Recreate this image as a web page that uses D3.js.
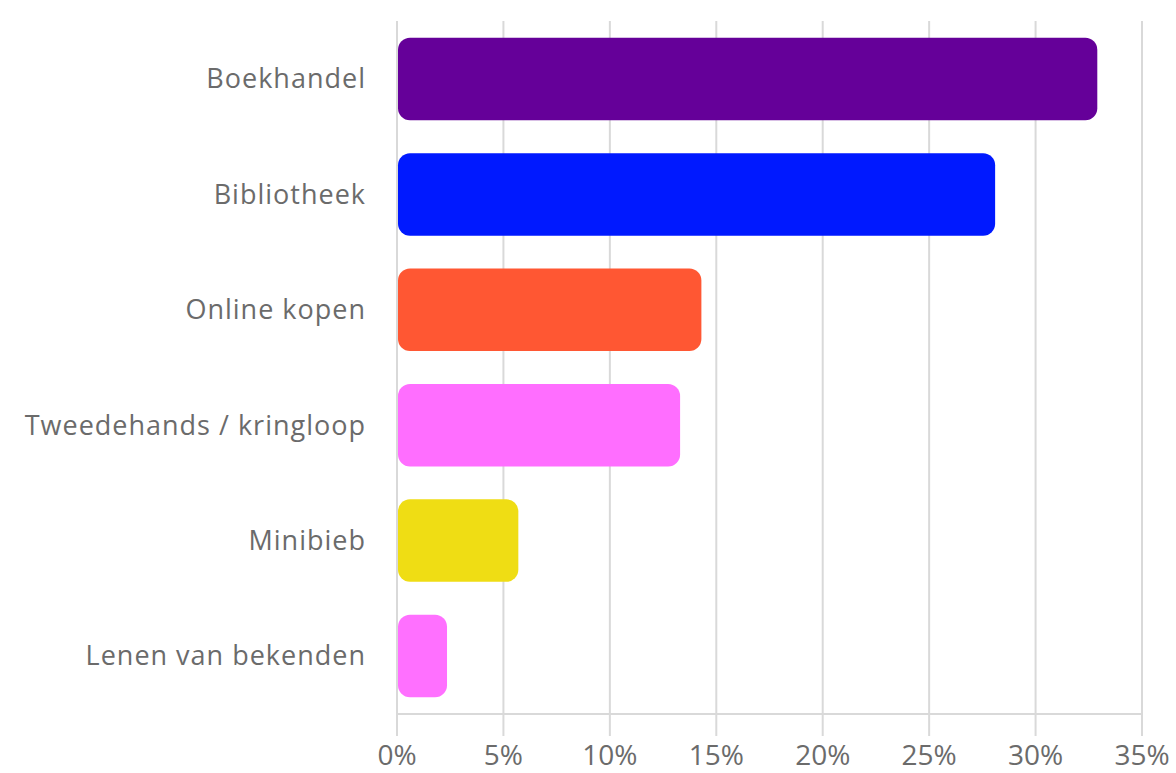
<!DOCTYPE html>
<html>
<head>
<meta charset="utf-8">
<script src="https://cdn.jsdelivr.net/npm/d3@7"></script>
<style>
  body { margin: 0; background: #fff; }
  svg text { font-family: "Open Sans", Roboto, sans-serif; fill: #6b6b6b; }
</style>
</head>
<body>
<div id="chart"></div>
<script>
const categories = ['Boekhandel', 'Bibliotheek', 'Online kopen', 'Tweedehands / kringloop', 'Minibieb', 'Lenen van bekenden'];
const values = [32.9, 28.1, 14.3, 13.3, 5.7, 2.35];
const colors = ['#650099', '#0019ff', '#ff5733', '#ff6eff', '#efdd14', '#ff70ff'];
const ticks = [0, 5, 10, 15, 20, 25, 30, 35];

const width = 1176, height = 773;
const margin = {top: 21, right: 34, bottom: 59, left: 397};

const svg = d3.select('#chart').append('svg')
    .attr('width', width)
    .attr('height', height);

const x = d3.scaleLinear()
    .domain([0, 35])
    .range([margin.left, width - margin.right]);

const y = d3.scaleBand()
    .domain(categories)
    .range([21, 714])
    .paddingInner(0.285)
    .paddingOuter(0.145);

// gridlines, run down past the baseline as tick marks
svg.append('g').selectAll('line')
    .data(ticks)
    .join('line')
    .attr('x1', d => x(d))
    .attr('x2', d => x(d))
    .attr('y1', margin.top)
    .attr('y2', 736)
    .style('stroke', '#d9d9d9')
    .style('stroke-width', 2);

// baseline
svg.append('line')
    .attr('x1', x(0))
    .attr('x2', x(35))
    .attr('y1', 714)
    .attr('y2', 714)
    .style('stroke', '#d9d9d9')
    .style('stroke-width', 2);

svg.append('g').selectAll('rect')
    .data(values)
    .join('rect')
    .attr('x', x(0) + 1)
    .attr('y', (d, i) => y(categories[i]))
    .attr('width', d => x(d) - x(0) - 1)
    .attr('height', y.bandwidth())
    .attr('rx', 12)
    .style('fill', (d, i) => colors[i]);

// category labels
svg.append('g').selectAll('text')
    .data(categories)
    .join('text')
    .attr('x', 366)
    .attr('y', d => y(d) + y.bandwidth() / 2)
    .attr('dy', '0.35em')
    .attr('text-anchor', 'end')
    .style('font-size', '27px')
    .style('letter-spacing', '1px')
    .text(d => d);

// tick labels
svg.append('g').selectAll('text')
    .data(ticks)
    .join('text')
    .attr('x', d => x(d))
    .attr('y', 765)
    .attr('text-anchor', 'middle')
    .style('font-size', '28px')
    .text(d => d + '%');
</script>
</body>
</html>
